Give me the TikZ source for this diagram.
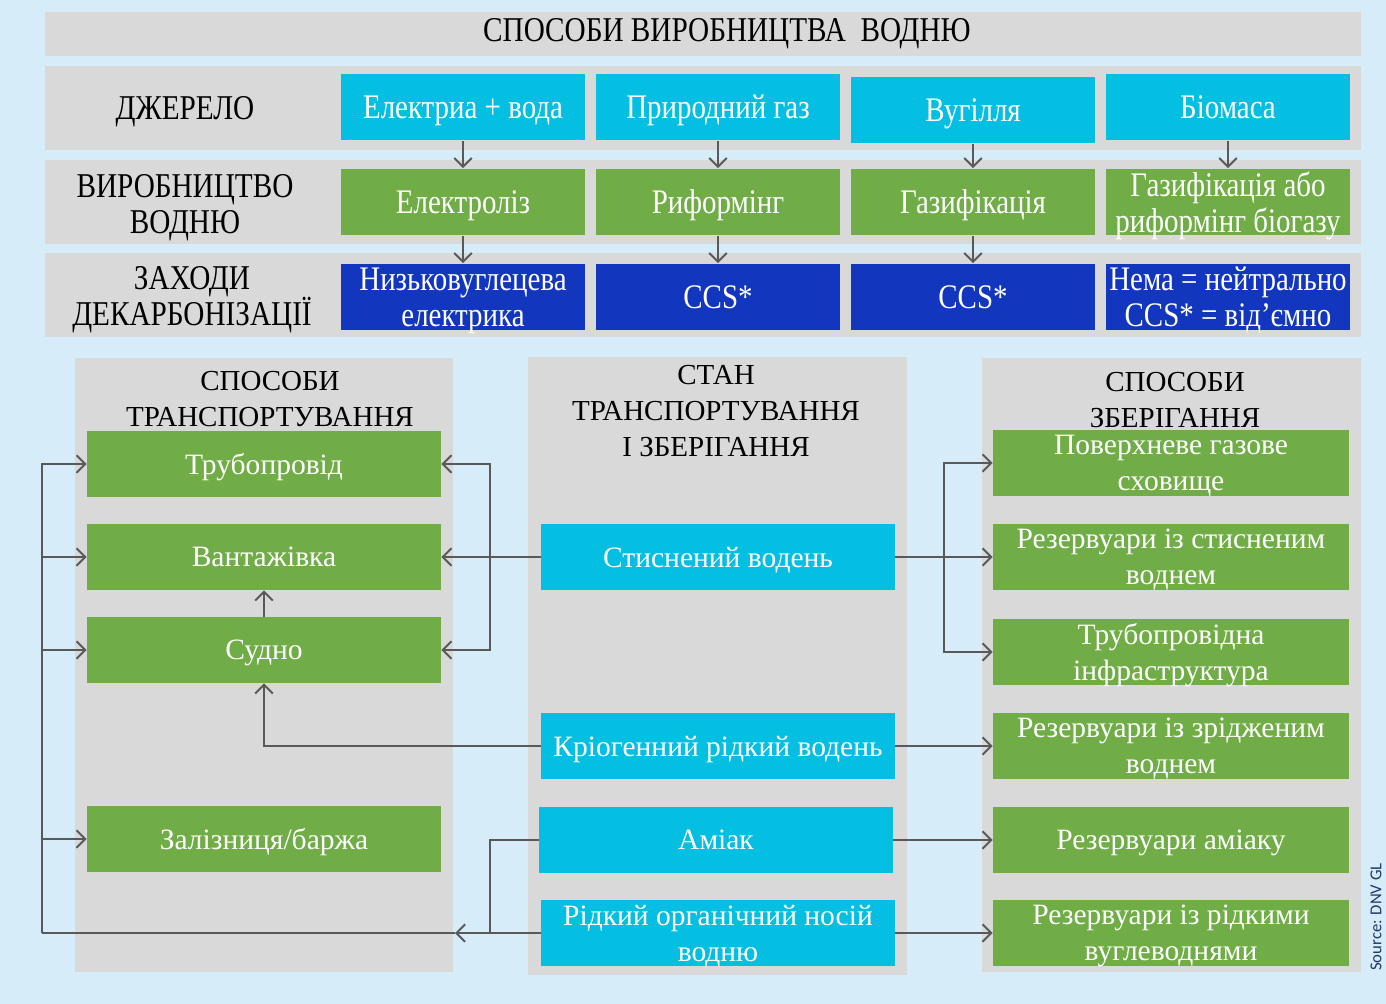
\documentclass[tikz,border=0pt]{standalone}
\usepackage{fontspec}
\setmainfont{Liberation Serif}
\newfontfamily\narrowfont[FakeStretch=0.84]{Liberation Serif}
\newfontfamily\notefont{Carlito}
\usepackage{tikz}
\usetikzlibrary{arrows,arrows.meta,calc}

\definecolor{bgblue}{HTML}{D6ECF9}
\definecolor{bandgray}{HTML}{D9D9D9}
\definecolor{srccyan}{HTML}{05BFE3}
\definecolor{prodgreen}{HTML}{70AD47}
\definecolor{decblue}{HTML}{1336BE}
\definecolor{linegray}{HTML}{595959}
\definecolor{notecolor}{HTML}{1F3864}

\begin{document}
\begin{tikzpicture}[x=0.02cm,y=-0.02cm,>={Straight Barb[length=5pt,width=10pt]}]
\tikzstyle{band} = [fill=bandgray]
\tikzstyle{topbox} = [minimum width=4.88cm, minimum height=1.34cm, inner sep=0pt, text depth=0pt, align=center, text=white, font=\narrowfont\fontsize{19.6}{20.5}\selectfont]
\tikzstyle{src} = [topbox, fill=srccyan]
\tikzstyle{prod} = [topbox, fill=prodgreen]
\tikzstyle{dec} = [topbox, fill=decblue]
\tikzstyle{rowlabel} = [align=center, font=\narrowfont\fontsize{19.8}{20.5}\selectfont]
\tikzstyle{lowbox} = [minimum width=7.08cm, minimum height=1.32cm, inner sep=0pt, text depth=0pt, align=center, text=white, font=\fontsize{16.8}{20.5}\selectfont]
\tikzstyle{way} = [lowbox, fill=prodgreen]
\tikzstyle{state} = [lowbox, fill=srccyan]
\tikzstyle{store} = [lowbox, fill=prodgreen, minimum width=7.12cm]
\tikzstyle{paneltitle} = [align=center, font=\fontsize{16.5}{20.5}\selectfont]
\tikzstyle{link} = [draw=linegray, line width=1.1pt]

\useasboundingbox (0,0) rectangle (1386,1004);
\fill[bgblue] (0,0) rectangle (1386,1004);

\fill[band] (45,12) rectangle (1361,56);
\fill[band] (45,66) rectangle (1361,150);
\fill[band] (45,160) rectangle (1361,244);
\fill[band] (45,253) rectangle (1361,337);
\fill[band] (75,358) rectangle (453,972);
\fill[band] (528,357) rectangle (907,975);
\fill[band] (982,358) rectangle (1361,972);

\node[rowlabel] (title) at (727,34) {СПОСОБИ ВИРОБНИЦТВА\ \ ВОДНЮ};
\node[rowlabel] (lsource) at (185,112) {ДЖЕРЕЛО};
\node[rowlabel] (lprod) at (185,208) {ВИРОБНИЦТВО\\ВОДНЮ};
\node[rowlabel] (ldec) at (192,300) {ЗАХОДИ\\ДЕКАРБОНІЗАЦІЇ};

\node[src] (src1) at (463,107) {Електриа + вода};
\node[src] (src2) at (718,107) {Природний газ};
\node[src] (src3) at (973,110) {Вугілля};
\node[src] (src4) at (1228,107) {Біомаса};

\node[prod] (prod1) at (463,202) {Електроліз};
\node[prod] (prod2) at (718,202) {Риформінг};
\node[prod] (prod3) at (973,202) {Газифікація};
\node[prod] (prod4) at (1228,202) {Газифікація або\\риформінг біогазу};

\node[dec] (dec1) at (463,297) {Низьковуглецева\\електрика};
\node[dec] (dec2) at (718,297) {CCS*};
\node[dec] (dec3) at (973,297) {CCS*};
\node[dec] (dec4) at (1228,297) {Нема = нейтрально\\CCS* = від’ємно};

\foreach \i in {1,...,4} \draw[link,->] (src\i) -- (prod\i);
\foreach \i in {1,...,3} \draw[link,->] (prod\i) -- (dec\i);

\node[paneltitle] (ttrans) at (270,399) {СПОСОБИ\\ТРАНСПОРТУВАННЯ};
\node[paneltitle] (tstate) at (716,411) {СТАН\\ТРАНСПОРТУВАННЯ\\І ЗБЕРІГАННЯ};
\node[paneltitle] (tstore) at (1175,400) {СПОСОБИ\\ЗБЕРІГАННЯ};

\node[way] (pipe) at (264,464) {Трубопровід};
\node[way] (truck) at (264,557) {Вантажівка};
\node[way] (ship) at (264,650) {Судно};
\node[way] (rail) at (264,839) {Залізниця/баржа};

\node[state] (comp) at (718,557) {Стиснений водень};
\node[state] (cryo) at (718,746) {Кріогенний рідкий водень};
\node[state] (ammonia) at (716,840) {Аміак};
\node[state] (lohc) at (718,933) {Рідкий органічний носій\\водню};

\node[store] (surface) at (1171,463) {Поверхневе газове\\сховище};
\node[store] (tankc) at (1171,557) {Резервуари із стисненим\\воднем};
\node[store] (pipeinf) at (1171,652) {Трубопровідна\\інфраструктура};
\node[store] (tankl) at (1171,746) {Резервуари із зрідженим\\воднем};
\node[store] (tanka) at (1171,840) {Резервуари аміаку};
\node[store] (tankh) at (1171,933) {Резервуари із рідкими\\вуглеводнями};

\coordinate (tipL) at (455,933);
\coordinate (busLB) at (42,933);
\coordinate (jointL) at (490,933);
\coordinate (busTR) at (490,557);
\coordinate (busSR) at (944,557);

\draw[link,->] (lohc.west) -- (tipL);
\draw[link] (tipL) -- (busLB);
\draw[link] (ammonia.west) -| (jointL);
\draw[link,->] (busLB) |- (pipe.west);
\draw[link,->] (busLB) |- (truck.west);
\draw[link,->] (busLB) |- (ship.west);
\draw[link,->] (busLB) |- (rail.west);

\draw[link,->] (comp.west) -- (truck.east);
\draw[link,->] (busTR) |- (pipe.east);
\draw[link,->] (busTR) |- (ship.east);
\draw[link,->] (cryo.west) -| (ship.south);
\draw[link,->] (ship.north) -- (truck.south);

\draw[link,->] (comp.east) -- (tankc.west);
\draw[link,->] (busSR) |- (surface.west);
\draw[link,->] (busSR) |- (pipeinf.west);
\draw[link,->] (cryo.east) -- (tankl.west);
\draw[link,->] (ammonia.east) -- (tanka.west);
\draw[link,->] (lohc.east) -- (tankh.west);

\node[rotate=90, text=notecolor, font=\notefont\fontsize{9.5}{11}\selectfont] (note) at (1376,917) {Source: DNV GL};
\end{tikzpicture}
\end{document}
